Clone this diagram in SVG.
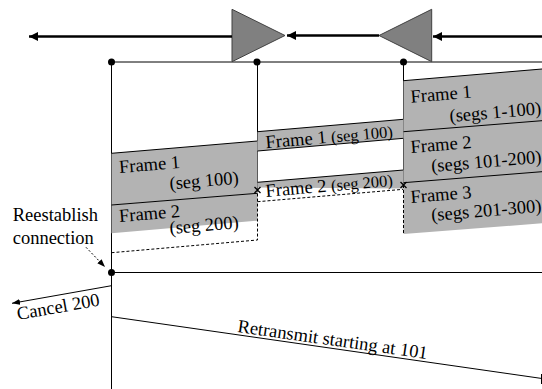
<svg xmlns="http://www.w3.org/2000/svg" width="542" height="389" viewBox="0 0 542 389">
<defs>
<style>
text{font-family:"Liberation Serif","Times New Roman",serif;font-size:18.5px;fill:#000}
.sm{font-size:16.5px}
.band{fill:#b3b3b3;stroke:none}
.edge{stroke:#000;stroke-width:1;fill:none}
.dash{stroke:#000;stroke-width:1;fill:none;stroke-dasharray:3,2}
.tri{fill:#808080;stroke:#404040;stroke-width:1}
.big{stroke:#000;stroke-width:2.5;fill:none}
.thin{stroke:#000;stroke-width:1;fill:none}
.x{stroke:#000;stroke-width:1.3}
</style>
<marker id="ah" markerUnits="userSpaceOnUse" markerWidth="10" markerHeight="10" refX="9" refY="4.5" orient="auto"><path d="M0,0 L9,4.5 L0,9 z" fill="#000"/></marker>
<marker id="as" markerUnits="userSpaceOnUse" markerWidth="9" markerHeight="7" refX="8" refY="3" orient="auto"><path d="M0,0 L8,3 L0,6 z" fill="#000"/></marker>
</defs>

<g id="timelines">
<line x1="111" y1="62" x2="542" y2="62" class="thin"/>
<line x1="111.5" y1="62" x2="111.5" y2="389" class="thin"/>
<line x1="257.5" y1="62" x2="257.5" y2="190" class="thin"/>
<line x1="403.5" y1="62" x2="403.5" y2="185" class="thin"/>
<line x1="111" y1="272.5" x2="542" y2="272.5" class="thin"/>
<circle cx="111.5" cy="62" r="3.5"/>
<circle cx="257" cy="62" r="3.5"/>
<circle cx="403.5" cy="62" r="3.5"/>
<circle cx="111.5" cy="272.5" r="3.5"/>
</g>

<g id="repeater1"><polygon class="tri" points="232,9.3 285,35.5 232,61.7"/></g>
<g id="repeater2"><polygon class="tri" points="431.7,9.3 379,35.5 431.7,61.7"/></g>

<g id="block-left">
<polygon class="band" points="111.5,153.3 257.5,141 257.5,193.3 111.5,205"/>
<polygon class="band" points="111.5,205 257.5,193.3 257.5,220.7 111.5,233.3"/>
<line class="edge" x1="111.5" y1="153.3" x2="257.5" y2="141"/>
<line class="edge" x1="111.5" y1="205" x2="257.5" y2="193.3"/>
<polyline class="dash" points="111.5,252.7 257.5,240 257.5,190"/>
<text transform="translate(119.5,173) rotate(-4.8)">Frame 1</text>
<text transform="translate(170,189.5) rotate(-4.8)">(seg 100)</text>
<text transform="translate(119.5,222) rotate(-4.8)">Frame 2</text>
<text transform="translate(170,234) rotate(-4.8)">(seg 200)</text>
</g>

<g id="block-middle">
<polygon class="band" points="257.5,131.7 403.5,119.3 403.5,138.3 257.5,151"/>
<line class="edge" x1="257.5" y1="131.7" x2="403.5" y2="119.3"/>
<line class="edge" x1="257.5" y1="151" x2="403.5" y2="138.3"/>
<polygon class="band" points="257.5,182.3 403.5,170 403.5,188.5 257.5,187.5"/>
<line class="edge" x1="257.5" y1="182.3" x2="403.5" y2="170"/>
<polyline class="dash" points="257.5,201.7 403.5,189.3"/>
<text transform="translate(266,148.3) rotate(-5)">Frame 1 <tspan class="sm">(seg 100)</tspan></text>
<text transform="translate(266,197) rotate(-5)">Frame 2 <tspan class="sm">(seg 200)</tspan></text>
</g>

<g id="block-right">
<polygon class="band" points="403.5,80.7 542,69 542,223.3 403.5,234"/>
<line class="edge" x1="403.5" y1="80.7" x2="542" y2="69" stroke="#333"/>
<line class="edge" x1="403.5" y1="131.7" x2="542" y2="120.7"/>
<line class="edge" x1="403.5" y1="182.7" x2="542" y2="171.7"/>
<line class="dash" x1="403.5" y1="185" x2="403.5" y2="234"/>
<text transform="translate(411,102.7) rotate(-4.8)">Frame 1</text>
<text transform="translate(450,122) rotate(-4.8)">(segs 1-100)</text>
<text transform="translate(411,153) rotate(-4.8)">Frame 2</text>
<text transform="translate(431.7,172) rotate(-4.8)">(segs 101-200)</text>
<text transform="translate(411,203) rotate(-4.8)">Frame 3</text>
<text transform="translate(431.7,221) rotate(-4.8)">(segs 201-300)</text>
</g>

<g id="losses">
<path class="x" d="M254.5,187 L260.5,193 M260.5,187 L254.5,193"/>
<path class="x" d="M400.5,182 L406.5,188 M406.5,182 L400.5,188"/>
</g>

<g id="reestablish">
<text x="12.7" y="221">Reestablish</text>
<text x="12.7" y="243.5">connection</text>
</g>

<g id="connectors">
<line class="big" x1="542" y1="36.5" x2="433" y2="36.5" marker-end="url(#ah)"/>
<line class="big" x1="379" y1="35.5" x2="287" y2="35.5" marker-end="url(#ah)"/>
<line class="big" x1="232" y1="36.5" x2="29" y2="36.5" marker-end="url(#ah)"/>
<line class="thin" x1="86" y1="247.3" x2="105" y2="267" stroke-dasharray="2,2" marker-end="url(#as)"/>
<line class="thin" x1="111.5" y1="285.7" x2="12" y2="303.3" marker-end="url(#as)"/>
<line class="thin" x1="111.5" y1="316.7" x2="542" y2="378.5"/>
<line class="thin" x1="541.5" y1="374" x2="541.5" y2="384"/>
<text transform="translate(18,320) rotate(-10)">Cancel 200</text>
<text transform="translate(237,332) rotate(8.1)">Retransmit starting at 101</text>
</g>
</svg>
